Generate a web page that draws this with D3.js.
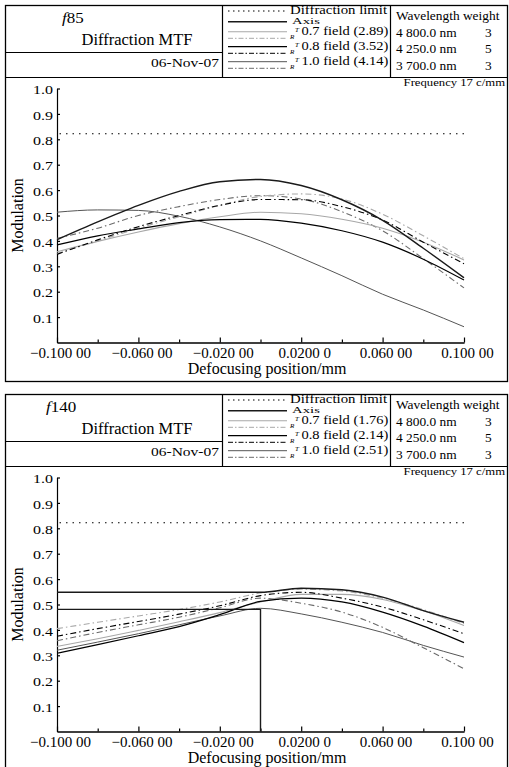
<!DOCTYPE html>
<html lang="en">
<head>
<meta charset="UTF-8">
<title>Diffraction MTF vs defocus</title>
<style>
  body { margin: 0; background: #fff; }
  svg { display: block; font-family: "Liberation Serif", "Times New Roman", serif; }
  text { fill: #000; }
</style>
</head>
<body>
<svg id="chart" width="509" height="767"></svg>
<script src="https://cdnjs.cloudflare.com/ajax/libs/d3/7.8.5/d3.min.js"></script>
<script>
// shared axis values
const defocus = [-0.1, -0.08, -0.06, -0.04, -0.02, 0, 0.02, 0.04, 0.06, 0.08, 0.1];
const yTicks = [0.1, 0.2, 0.3, 0.4, 0.5, 0.6, 0.7, 0.8, 0.9, 1.0];
const xMajor = [-0.1, -0.06, -0.02, 0.02, 0.06, 0.1];
const xMajorLabels = ["\u22120.100 00", "\u22120.060 00", "\u22120.020 00", "0.0200 0", "0.060 00", "0.100 00"];
const xMinor = [-0.08, -0.04, 0, 0.04, 0.08];
const diffLimit = 0.822;
const wavelengths = ["4 800.0 nm", "4 250.0 nm", "3 700.0 nm"];
const weights = ["3", "5", "3"];
const fieldNames = ["0.7 field", "0.8 field", "1.0 field"];
const fieldHeights85 = ["2.89", "3.52", "4.14"];
const fieldHeights140 = ["1.76", "2.14", "2.51"];

// f85 curves (modulation at each defocus position)
const axis85 = [0.405, 0.475, 0.54, 0.595, 0.633, 0.642, 0.618, 0.562, 0.481, 0.371, 0.255];
const t07_85 = [0.357, 0.398, 0.435, 0.468, 0.495, 0.513, 0.507, 0.485, 0.45, 0.395, 0.325];
const r07_85 = [0.35, 0.40, 0.45, 0.495, 0.54, 0.575, 0.585, 0.565, 0.505, 0.42, 0.33];
const t08_85 = [0.384, 0.42, 0.447, 0.472, 0.484, 0.485, 0.47, 0.44, 0.395, 0.328, 0.246];
const r08_85 = [0.347, 0.404, 0.456, 0.50, 0.54, 0.563, 0.562, 0.535, 0.482, 0.395, 0.31];
const t10_85 = [0.513, 0.522, 0.52, 0.497, 0.455, 0.40, 0.333, 0.263, 0.19, 0.128, 0.062];
const r10_85 = [0.41, 0.45, 0.50, 0.535, 0.563, 0.578, 0.565, 0.515, 0.44, 0.33, 0.215];

// f140 curves
const axis140 = [0.548, 0.548, 0.548, 0.548, 0.548, 0.548, 0.564, 0.558, 0.529, 0.476, 0.43];
const t07_140 = [0.335, 0.365, 0.398, 0.432, 0.468, 0.51, 0.54, 0.54, 0.52, 0.475, 0.417];
const r07_140 = [0.405, 0.43, 0.455, 0.48, 0.51, 0.545, 0.56, 0.553, 0.525, 0.48, 0.425];
const t08_140 = [0.308, 0.342, 0.377, 0.413, 0.46, 0.512, 0.525, 0.51, 0.47, 0.415, 0.35];
const r08_140 = [0.375, 0.405, 0.433, 0.462, 0.495, 0.535, 0.548, 0.525, 0.49, 0.44, 0.385];
const t10_140 = [0.32, 0.352, 0.385, 0.42, 0.455, 0.485, 0.463, 0.43, 0.39, 0.339, 0.293];
const r10_140 = [0.357, 0.39, 0.42, 0.45, 0.487, 0.525, 0.505, 0.47, 0.41, 0.33, 0.247];
// flat segment that drops to zero near focus
const stepX140 = [-0.1, 0, 0];
const step140 = [0.481, 0.481, 0];

const styles = {
  axis: { color: "#1a1a1a", width: 1.4, dash: null },
  t07: { color: "#a8a8a8", width: 1.1, dash: null },
  r07: { color: "#a8a8a8", width: 1.1, dash: "6,3,1.5,3" },
  t08: { color: "#000", width: 1.2, dash: null },
  r08: { color: "#000", width: 1.1, dash: "6,3,1.5,3" },
  t10: { color: "#555", width: 1, dash: null },
  r10: { color: "#6a6a6a", width: 1.1, dash: "6,3,1.5,3" }
};

const svg = d3.select("#chart");
const x = d3.scaleLinear().domain([-0.1, 0.1]).range([57, 464]);
const y = d3.scaleLinear().domain([0, 1]).range([342.5, 88.5]);

// text that is squashed vertically like the scanned original
function label(g, px, py, str, size, anchor, sy) {
  return g.append("text")
    .attr("transform", `translate(${px},${py}) scale(1,${sy || 1})`)
    .attr("text-anchor", anchor || "start")
    .style("font-size", size + "px")
    .text(str);
}

function hline(g, x1, x2, yy, style) {
  const l = g.append("line")
    .attr("x1", x1).attr("x2", x2).attr("y1", yy).attr("y2", yy)
    .attr("stroke", style.color).attr("stroke-width", style.width);
  if (style.dash) l.attr("stroke-dasharray", style.dash);
  return l;
}

function drawPanel(dy, focal, heights, curves) {
  const g = svg.append("g").attr("transform", `translate(0,${dy})`);

  // frame and header grid
  g.append("rect").attr("x", 5.5).attr("y", 5.5).attr("width", 502).attr("height", 376)
    .attr("fill", "none").attr("stroke", "#000").attr("stroke-width", 1.3);
  const frame = { color: "#000", width: 1.2 };
  hline(g, 5, 507, 77.5, frame);
  hline(g, 5, 222, 52.5, frame);
  g.append("line").attr("x1", 222.5).attr("x2", 222.5).attr("y1", 5).attr("y2", 77.5)
    .attr("stroke", "#000").attr("stroke-width", 1.2);
  g.append("line").attr("x1", 390.5).attr("x2", 390.5).attr("y1", 5).attr("y2", 77.5)
    .attr("stroke", "#000").attr("stroke-width", 1.2);

  // title cell
  const ft = g.append("text")
    .attr("transform", `translate(${focal.x},23) scale(1,0.85)`)
    .style("font-size", "17px");
  ft.append("tspan").style("font-style", "italic").text("f");
  ft.append("tspan").text(focal.num);
  label(g, 137, 44.5, "Diffraction MTF", 16.5, "middle", 0.95);
  label(g, 219, 67, "06-Nov-07", 15.5, "end", 0.85);

  // legend cell
  hline(g, 228, 287, 11, { color: "#000", width: 1, dash: "1.5,3.5" });
  label(g, 290, 13.5, "Diffraction limit", 14.8, "start", 0.78);
  hline(g, 228, 287, 21.7, styles.axis);
  label(g, 292, 23.5, "Axis", 14.8, "start", 0.6);
  const keys = [["t07", "r07"], ["t08", "r08"], ["t10", "r10"]];
  keys.forEach((k, i) => {
    const base = 31.7 + i * 15;
    hline(g, 228, 287, base, styles[k[0]]);
    hline(g, 228, 287, base + 6.6, { color: styles[k[1]].color, width: 1, dash: "5,2,1.5,2" });
    // small T / R marks, T offset up-right of R
    g.append("text").attr("x", 295).attr("y", base + 0.5).style("font-size", "7px")
      .style("font-style", "italic").text("T");
    g.append("text").attr("x", 290).attr("y", base + 7.5).style("font-size", "7px")
      .style("font-style", "italic").text("R");
    label(g, 301.5, base + 3.5, `${fieldNames[i]} (${heights[i]})`, 14.5, "start", 0.82);
  });

  // wavelength cell
  label(g, 396, 19.5, "Wavelength weight", 13.4, "start", 0.87);
  wavelengths.forEach((w, i) => {
    const by = 36.7 + i * 16.7;
    label(g, 396, by, w, 13.4, "start", 0.87);
    label(g, 485, by, weights[i], 13.4, "start", 0.87);
  });

  label(g, 505, 86, "Frequency 17 c/mm", 12.7, "end", 0.85);

  // axes
  const xMinorAxis = g.append("g").attr("transform", `translate(0,${y(0)})`)
    .call(d3.axisBottom(x).tickValues(xMinor).tickSize(-3).tickSizeOuter(0).tickFormat(""));
  const xAxis = g.append("g").attr("transform", `translate(0,${y(0)})`)
    .call(d3.axisBottom(x).tickValues(xMajor).tickSize(-5).tickSizeOuter(0)
      .tickFormat((d, i) => xMajorLabels[i]));
  xAxis.selectAll("text").attr("y", 15).attr("dy", 0).attr("dx", 3)
    .style("font-size", "15px").style("font-family", "Liberation Serif, serif");
  const yAxis = g.append("g").attr("transform", `translate(${x(-0.1)},0)`)
    .call(d3.axisLeft(y).tickValues(yTicks).tickSize(-3).tickSizeOuter(0).tickFormat(d3.format(".1f")));
  yAxis.selectAll("text").attr("x", -4).attr("dy", "0.4em").attr("transform", "scale(1,0.8)")
    .style("font-size", "16px").style("font-family", "Liberation Serif, serif");
  [xMinorAxis, xAxis, yAxis].forEach(a => {
    a.selectAll("path, line").attr("stroke", "#000").attr("stroke-width", 1.2);
  });

  g.append("text").attr("transform", `translate(23,${y(0.5)}) rotate(-90)`)
    .attr("text-anchor", "middle").style("font-size", "16px").text("Modulation");
  g.append("text").attr("x", 267).attr("y", 374).attr("text-anchor", "middle")
    .style("font-size", "16px").text("Defocusing position/mm");

  // diffraction limit
  const dl = defocus.map(v => ({ v, m: diffLimit }));
  g.append("path").datum(dl)
    .attr("d", d3.line().x(d => x(d.v)).y(d => y(d.m)))
    .attr("fill", "none").attr("stroke", "#000").attr("stroke-width", 1.1)
    .attr("stroke-dasharray", "1.5,5").attr("stroke-dashoffset", -9);

  // MTF curves
  curves.forEach(c => {
    const pts = c.xs.map((v, i) => ({ v, m: c.ys[i] }));
    const line = d3.line().x(d => x(d.v)).y(d => y(d.m))
      .curve(c.linear ? d3.curveLinear : d3.curveMonotoneX);
    const p = g.append("path").datum(pts).attr("d", line)
      .attr("fill", "none").attr("stroke", c.style.color).attr("stroke-width", c.style.width);
    if (c.style.dash) p.attr("stroke-dasharray", c.style.dash);
  });
}

drawPanel(0, { x: 62, num: "85" }, fieldHeights85, [
  { xs: defocus, ys: t10_85, style: styles.t10 },
  { xs: defocus, ys: r10_85, style: styles.r10 },
  { xs: defocus, ys: t07_85, style: styles.t07 },
  { xs: defocus, ys: r07_85, style: styles.r07 },
  { xs: defocus, ys: t08_85, style: styles.t08 },
  { xs: defocus, ys: r08_85, style: styles.r08 },
  { xs: defocus, ys: axis85, style: styles.axis }
]);

drawPanel(389, { x: 46, num: "140" }, fieldHeights140, [
  { xs: defocus, ys: t10_140, style: styles.t10 },
  { xs: defocus, ys: r10_140, style: styles.r10 },
  { xs: defocus, ys: t07_140, style: styles.t07 },
  { xs: defocus, ys: r07_140, style: styles.r07 },
  { xs: defocus, ys: t08_140, style: styles.t08 },
  { xs: defocus, ys: r08_140, style: styles.r08 },
  { xs: defocus, ys: axis140, style: styles.axis },
  { xs: stepX140, ys: step140, style: styles.axis, linear: true }
]);
</script>
</body>
</html>
